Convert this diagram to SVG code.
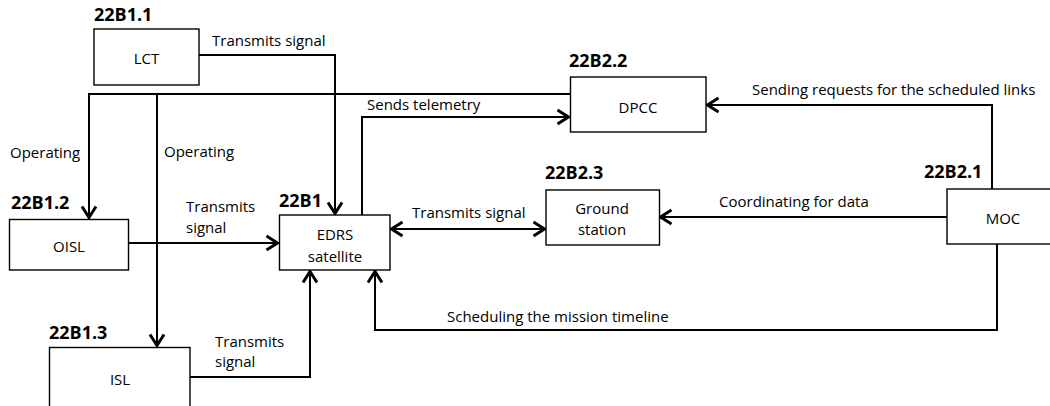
<svg xmlns="http://www.w3.org/2000/svg" width="1050" height="406" viewBox="0 0 1050 406">
<style>
.box{fill:#fff;stroke:#000;stroke-width:1.4}
.t{font-family:"Open Sans","Liberation Sans",sans-serif;font-size:15px;fill:#000}
.c{text-anchor:middle}
.id{font-family:"Open Sans","Liberation Sans",sans-serif;font-size:18px;font-weight:bold;fill:#000}
.ln{fill:none;stroke:#000;stroke-width:2}
.ar{marker-end:url(#ah)}
</style>
<defs>
<marker id="ah" markerUnits="userSpaceOnUse" viewBox="-15 -9 17 18" refX="0" refY="0" markerWidth="17" markerHeight="18" orient="auto-start-reverse" overflow="visible">
<path d="M-12.5,-7 L-1.5,0 L-12.5,7" fill="none" stroke="#000" stroke-width="3"/>
</marker>
</defs>
<rect width="1050" height="406" fill="#fff"/>
<g id="connectors">
<path class="ln ar" d="M199,55 H335 V215"/>
<path class="ln ar" d="M570,94 H89 V219"/>
<path class="ln ar" d="M157,94 V347"/>
<path class="ln ar" d="M128,243 H279"/>
<path class="ln ar" d="M190,377 H310 V270"/>
<path class="ln ar" d="M362,215 V117 H570"/>
<path class="ln ar" style="marker-start:url(#ah)" d="M390,229 H546"/>
<path class="ln ar" d="M947,217 H659"/>
<path class="ln ar" d="M992,189 V105 H706"/>
<path class="ln ar" d="M997,244 V330 H375 V270"/>
<text class="t" x="212" y="46">Transmits signal</text>
<text class="t" x="10" y="158">Operating</text>
<text class="t" x="164" y="157">Operating</text>
<text class="t" x="186" y="212">Transmits</text>
<text class="t" x="186" y="233">signal</text>
<text class="t" x="215" y="347">Transmits</text>
<text class="t" x="215" y="367">signal</text>
<text class="t" x="367" y="110">Sends telemetry</text>
<text class="t" x="412" y="218">Transmits signal</text>
<text class="t" x="752" y="95">Sending requests for the scheduled links</text>
<text class="t" x="719" y="207">Coordinating for data</text>
<text class="t" x="447" y="322">Scheduling the mission timeline</text>
</g>
<g id="LCT">
<text class="id" x="94" y="21">22B1.1</text>
<rect class="box" x="94" y="29" width="105" height="56"/>
<text class="t c" x="146.5" y="64">LCT</text>
</g>
<g id="OISL">
<text class="id" x="11" y="209">22B1.2</text>
<rect class="box" x="9.5" y="219.5" width="119" height="50.5"/>
<text class="t c" x="69" y="252">OISL</text>
</g>
<g id="ISL">
<text class="id" x="49" y="339">22B1.3</text>
<rect class="box" x="49.5" y="347.5" width="140.5" height="70"/>
<text class="t c" x="120" y="385">ISL</text>
</g>
<g id="EDRS">
<text class="id" x="279" y="207">22B1</text>
<rect class="box" x="279.5" y="215" width="110.5" height="55"/>
<text class="t c" x="335" y="240">EDRS</text>
<text class="t c" x="335" y="262">satellite</text>
</g>
<g id="DPCC">
<text class="id" x="569" y="67">22B2.2</text>
<rect class="box" x="570.5" y="77" width="135.5" height="55"/>
<text class="t c" x="638" y="113">DPCC</text>
</g>
<g id="GroundStation">
<text class="id" x="545" y="179">22B2.3</text>
<rect class="box" x="546" y="190" width="113.5" height="55"/>
<text class="t c" x="602" y="214">Ground</text>
<text class="t c" x="602" y="235">station</text>
</g>
<g id="MOC">
<text class="id" x="924" y="178">22B2.1</text>
<rect class="box" x="947" y="189" width="110" height="55"/>
<text class="t c" x="1003" y="224">MOC</text>
</g>
</svg>
